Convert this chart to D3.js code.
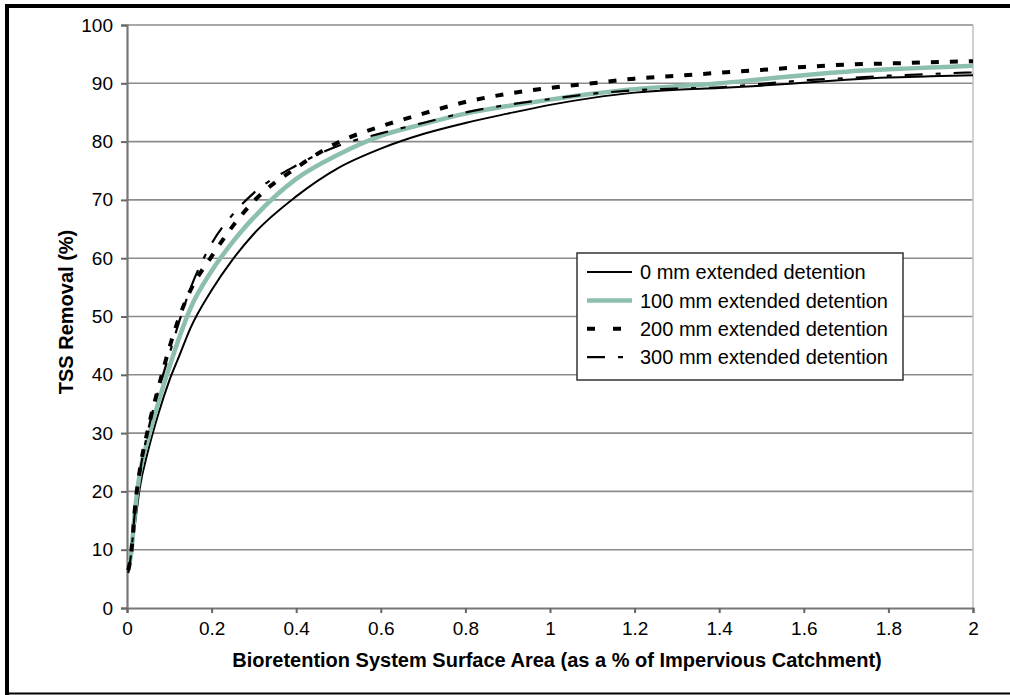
<!DOCTYPE html>
<html>
<head>
<meta charset="utf-8">
<script src="https://cdn.jsdelivr.net/npm/d3@7"></script>
<style>
  body { margin: 0; background: #fff; }
  svg { display: block; font-family: "Liberation Sans", Arial, sans-serif; }
</style>
</head>
<body>
<svg width="1010" height="695"></svg>
<script>
// surface area (% of impervious catchment)
const xs = [0.003, 0.01, 0.02, 0.03, 0.05, 0.075, 0.1, 0.125, 0.15, 0.2, 0.25, 0.3, 0.4, 0.5,
  0.6, 0.7, 0.8, 0.9, 1.0, 1.1, 1.2, 1.3, 1.4, 1.5, 1.6, 1.7, 1.8, 1.9, 2.0];

// TSS removal (%)
const ed0 = [6.5, 9, 15, 20.5, 27, 33.5, 39, 43.5, 48, 54.5, 59.8, 64.2, 70.6, 75.5,
  78.8, 81.3, 83.2, 84.8, 86.3, 87.5, 88.4, 88.9, 89.2, 89.6, 90.1, 90.6, 91.0, 91.2, 91.4];
const ed100 = [6.5, 9.5, 17.5, 23, 29, 35.5, 41.3, 46.7, 51.4, 57.8, 62.8, 67, 73.6, 77.8,
  81, 83, 84.8, 86.1, 87.2, 88.2, 89.0, 89.5, 90.0, 90.7, 91.4, 92.0, 92.4, 92.7, 93.0];
const ed200 = [6.5, 9.5, 18, 23.5, 30.8, 38, 44.6, 50.2, 54.5, 60.3, 65.5, 69.8, 75.5, 79.9,
  82.6, 84.8, 86.8, 88.2, 89.2, 90.0, 90.8, 91.3, 91.8, 92.3, 92.8, 93.2, 93.4, 93.6, 93.8];
const ed300 = [6, 9.5, 17.5, 23, 30.5, 37.5, 43.5, 49.5, 54.8, 62.5, 67.5, 71.2, 75.9, 79.3,
  81.4, 83.2, 85, 86.3, 87.3, 88.2, 88.8, 89.1, 89.3, 89.9, 90.5, 90.9, 91.3, 91.6, 91.9];

const seriesNames = ["0 mm extended detention", "100 mm extended detention",
  "200 mm extended detention", "300 mm extended detention"];
const xTicks = [0, 0.2, 0.4, 0.6, 0.8, 1, 1.2, 1.4, 1.6, 1.8, 2];
const yTicks = [0, 10, 20, 30, 40, 50, 60, 70, 80, 90, 100];

const styles = [
  { stroke: "#000", width: 2, dash: null },
  { stroke: "#8dbfae", width: 4.5, dash: null },
  { stroke: "#000", width: 4, dash: "8,11" },
  { stroke: "#000", width: 2.2, dash: "18,13,5,13" }
];

const svg = d3.select("svg");
const x = d3.scaleLinear().domain([0, 2]).range([127, 973]);
const y = d3.scaleLinear().domain([0, 100]).range([608, 25]);

// frame
svg.append("line").attr("x1", 5).attr("x2", 1010).attr("y1", 6).attr("y2", 6)
  .attr("stroke", "#000").attr("stroke-width", 4);
svg.append("line").attr("x1", 7).attr("x2", 7).attr("y1", 4).attr("y2", 695)
  .attr("stroke", "#000").attr("stroke-width", 4);
svg.append("line").attr("x1", 5).attr("x2", 1010).attr("y1", 693.5).attr("y2", 693.5)
  .attr("stroke", "#000").attr("stroke-width", 2);

// gridlines
svg.append("g").selectAll("line").data(yTicks.slice(1)).join("line")
  .attr("x1", x(0)).attr("x2", x(2))
  .attr("y1", d => y(d)).attr("y2", d => y(d))
  .attr("stroke", "#8c8c8c").attr("stroke-width", 1.6);
svg.append("line").attr("x1", x(2)).attr("x2", x(2)).attr("y1", y(100)).attr("y2", y(0))
  .attr("stroke", "#c4c4c4").attr("stroke-width", 1.6);

// axes
const yAxis = svg.append("g").attr("transform", `translate(${x(0)},0)`)
  .call(d3.axisLeft(y).tickValues(yTicks).tickSize(6).tickPadding(8).tickFormat(d3.format("d")));
const xAxis = svg.append("g").attr("transform", `translate(0,${y(0)})`)
  .call(d3.axisBottom(x).tickValues(xTicks).tickSize(5).tickPadding(9).tickFormat(d => d3.format("")(d)));
[yAxis, xAxis].forEach(g => {
  g.select(".domain").attr("stroke", "#777").attr("stroke-width", 2.2);
  g.selectAll(".tick line").attr("stroke", "#666").attr("stroke-width", 2);
  g.selectAll(".tick text").attr("fill", "#000").style("font-size", "19px")
    .style("font-family", "'Liberation Sans', Arial, sans-serif");
});

// curves
const all = [ed0, ed100, ed200, ed300];
const line = d3.line().x(d => x(d[0])).y(d => y(d[1])).curve(d3.curveMonotoneX);
all.forEach((vals, i) => {
  const s = styles[i];
  svg.append("path")
    .datum(xs.map((v, j) => [v, vals[j]]))
    .attr("fill", "none")
    .attr("stroke", s.stroke)
    .attr("stroke-width", s.width)
    .attr("stroke-dasharray", s.dash)
    .attr("d", line);
});

// legend
const lg = svg.append("g").attr("transform", "translate(577,253)");
lg.append("rect").attr("width", 326).attr("height", 127)
  .attr("fill", "#fff").attr("stroke", "#333").attr("stroke-width", 1.5);
seriesNames.forEach((name, i) => {
  const s = styles[i];
  const yy = 19 + i * 28.4;
  lg.append("line").attr("x1", 10).attr("x2", 55).attr("y1", yy).attr("y2", yy)
    .attr("stroke", s.stroke).attr("stroke-width", s.width)
    .attr("stroke-dasharray", i === 2 ? "8,18" : s.dash);
  lg.append("text").attr("x", 63).attr("y", yy).attr("dy", "0.36em")
    .style("font-size", "20px").attr("fill", "#000").text(name);
});

// titles
svg.append("text").attr("x", 557).attr("y", 667).attr("text-anchor", "middle")
  .style("font-size", "20px").style("font-weight", "bold").attr("fill", "#000")
  .text("Bioretention System Surface Area (as a % of Impervious Catchment)");
svg.append("text").attr("transform", "translate(73,312) rotate(-90)").attr("text-anchor", "middle")
  .style("font-size", "20px").style("font-weight", "bold").attr("fill", "#000")
  .text("TSS Removal (%)");
</script>
</body>
</html>
